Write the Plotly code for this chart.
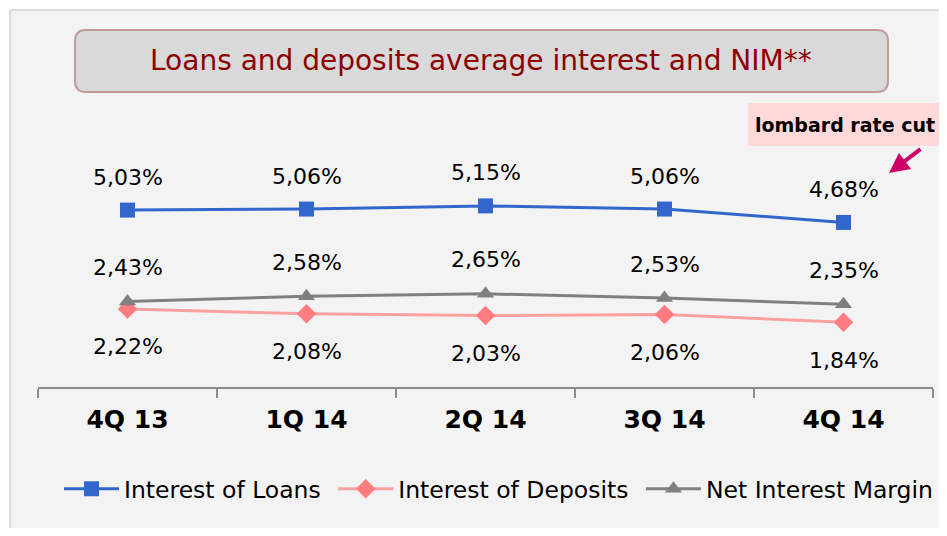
import plotly.graph_objects as go

W, H = 947, 536
OFF = 8  # marge du body de la page
FW, FH = W - 2 * OFF, H - 2 * OFF

quarters = ["4Q 13", "1Q 14", "2Q 14", "3Q 14", "4Q 14"]
loans = [5.03, 5.06, 5.15, 5.06, 4.68]
deposits = [2.22, 2.08, 2.03, 2.06, 1.84]
nim = [2.43, 2.58, 2.65, 2.53, 2.35]

FONT = "DejaVu Sans"


def px_x(v):
    return (v - OFF) / FW


def px_y(v):
    return 1 - (v - OFF) / FH


def fmt(v):
    return f"{v:.2f}%".replace(".", ",")


fig = go.Figure()

fig.add_trace(go.Scatter(
    x=quarters, y=loans, name="Interest of Loans\u00a0", mode="lines+markers",
    line=dict(color="#3366cc", width=3),
    marker=dict(symbol="square", size=15, color="#3366cc"),
))
fig.add_trace(go.Scatter(
    x=quarters, y=deposits, name="Interest of Deposits\u00a0", mode="lines+markers",
    line=dict(color="#ffa0a0", width=3),
    marker=dict(symbol="diamond", size=15, color="#ff7c80"),
))
fig.add_trace(go.Scatter(
    x=quarters, y=nim, name="Net Interest Margin", mode="lines+markers",
    line=dict(color="#808080", width=3),
    marker=dict(symbol="triangle-up", size=15, color="#808080"),
))

# étiquettes de valeurs
LBL = dict(family=FONT, size=22, color="black")
annotations = []
for q, v in zip(quarters, loans):
    annotations.append(dict(x=q, y=v, text=fmt(v), showarrow=False, yshift=33, font=LBL))
for q, v in zip(quarters, nim):
    annotations.append(dict(x=q, y=v, text=fmt(v), showarrow=False, yshift=34, font=LBL))
for q, v in zip(quarters, deposits):
    annotations.append(dict(x=q, y=v, text=fmt(v), showarrow=False, yshift=-38, font=LBL))

# titre dans la boîte
annotations.append(dict(
    xref="paper", yref="paper", x=px_x(481), y=px_y(61), xanchor="center", yanchor="middle",
    text="Loans and deposits average interest and NIM**",
    showarrow=False, font=dict(family=FONT, size=28, color="#8b0000"),
))
# annotation lombard
annotations.append(dict(
    xref="paper", yref="paper", x=px_x(937), y=px_y(125), xanchor="right", yanchor="middle",
    text="<b>lombard rate cut</b>",
    showarrow=False, font=dict(family=FONT, size=19, color="black"),
))
annotations.append(dict(
    xref="paper", yref="paper", x=px_x(889), y=px_y(173), ax=33, ay=-25,
    text="", showarrow=True,
    arrowhead=2, arrowsize=1, arrowwidth=4, arrowcolor="#cc0066",
))


def rounded_rect(x0, y0, x1, y1, r):
    X = lambda v: f"{px_x(v):.5f}"
    Y = lambda v: f"{px_y(v):.5f}"
    return (f"M {X(x0 + r)},{Y(y0)} L {X(x1 - r)},{Y(y0)} Q {X(x1)},{Y(y0)} {X(x1)},{Y(y0 + r)} "
            f"L {X(x1)},{Y(y1 - r)} Q {X(x1)},{Y(y1)} {X(x1 - r)},{Y(y1)} "
            f"L {X(x0 + r)},{Y(y1)} Q {X(x0)},{Y(y1)} {X(x0)},{Y(y1 - r)} "
            f"L {X(x0)},{Y(y0 + r)} Q {X(x0)},{Y(y0)} {X(x0 + r)},{Y(y0)} Z")


shapes = [
    # cadre extérieur
    dict(type="rect", xref="paper", yref="paper", x0=px_x(10), y0=px_y(H + 5), x1=px_x(W + 5), y1=px_y(10),
         fillcolor="#f3f3f3", line=dict(color="#d2baba", width=1), layer="below"),
    # boîte du titre
    dict(type="path", xref="paper", yref="paper", path=rounded_rect(75, 30, 888, 92, 11),
         fillcolor="#d9d9d9", line=dict(color="#c29a9a", width=2), layer="below"),
    # fond rose
    dict(type="rect", xref="paper", yref="paper", x0=px_x(748), y0=px_y(146), x1=px_x(W + 5), y1=px_y(103),
         fillcolor="#ffd9d9", line=dict(width=0), layer="below"),
]

fig.update_layout(
    width=FW, height=FH,
    margin=dict(l=0, r=0, t=0, b=0),
    paper_bgcolor="white",
    plot_bgcolor="rgba(0,0,0,0)",
    showlegend=True,
    legend=dict(
        orientation="h", x=px_x(59), y=px_y(489), xanchor="left", yanchor="middle",
        font=dict(family=FONT, size=23.5, color="black"), itemwidth=55,
        bgcolor="rgba(0,0,0,0)", traceorder="normal",
    ),
    xaxis=dict(
        domain=[px_x(38), px_x(933)], type="category", tickson="boundaries",
        showline=True, linecolor="#8c8c8c", linewidth=2,
        ticks="outside", ticklen=9, tickcolor="#8c8c8c", tickwidth=2,
        showgrid=False, zeroline=False, ticklabelstandoff=9,
        tickfont=dict(family=FONT, size=25, color="black", weight="bold"),
        range=[-0.5, 4.5],
    ),
    yaxis=dict(
        domain=[px_y(387), px_y(176)], range=[0, 6],
        visible=False, showgrid=False, zeroline=False,
    ),
    annotations=annotations,
    shapes=shapes,
)

fig.write_html("out.html")
